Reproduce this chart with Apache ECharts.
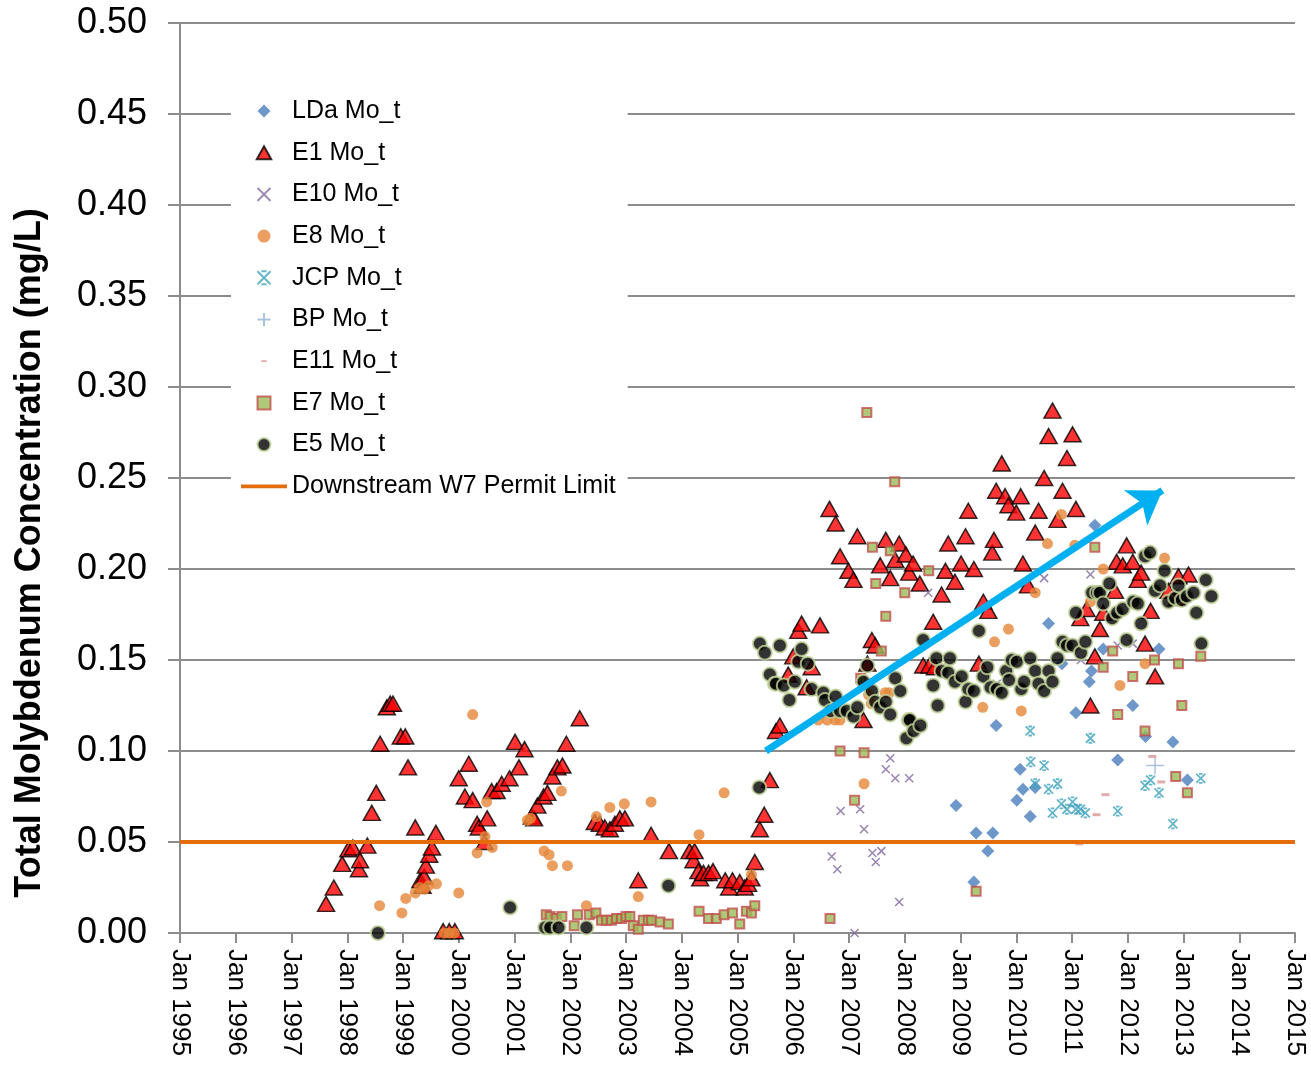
<!DOCTYPE html>
<html><head><meta charset="utf-8">
<script src="https://cdn.jsdelivr.net/npm/echarts@6/dist/echarts.min.js"></script>
<style>html,body{margin:0;padding:0;background:#fff}#c{width:1311px;height:1069px}</style>
</head><body><div id="c"></div>
<script>
// ---- data: [decimal year, concentration mg/L] ----
const ldaData = [[2008.92,0.070],[2009.24,0.028],[2009.28,0.055],[2009.49,0.045],[2009.58,0.055],[2009.64,0.114],[2010.01,0.073],[2010.07,0.090],[2010.12,0.079],[2010.25,0.064],[2010.34,0.080],[2010.58,0.170],[2010.82,0.148],[2011.07,0.121],[2011.31,0.138],[2011.35,0.144],[2011.41,0.224],[2011.56,0.156],[2011.82,0.095],[2012.09,0.125],[2012.32,0.108],[2012.56,0.156],[2012.81,0.105],[2013.07,0.084]];
const e1Data = [[1997.62,0.016],[1997.76,0.025],[1997.91,0.038],[1998.02,0.046],[1998.10,0.047],[1998.21,0.035],[1998.23,0.040],[1998.36,0.048],[1998.44,0.066],[1998.52,0.077],[1998.59,0.104],[1998.71,0.124],[1998.77,0.126],[1998.82,0.126],[1998.96,0.108],[1999.04,0.108],[1999.09,0.091],[1999.22,0.058],[1999.31,0.029],[1999.35,0.026],[1999.38,0.031],[1999.41,0.037],[1999.47,0.043],[1999.52,0.047],[1999.59,0.055],[1999.72,0.001],[1999.83,0.001],[1999.93,0.001],
[2000.00,0.085],[2000.11,0.075],[2000.18,0.093],[2000.25,0.073],[2000.33,0.060],[2000.36,0.058],[2000.46,0.050],[2000.51,0.063],[2000.59,0.078],[2000.68,0.078],[2000.77,0.082],[2000.91,0.085],[2001.01,0.105],[2001.08,0.091],[2001.18,0.101],[2001.31,0.064],[2001.35,0.063],[2001.41,0.070],[2001.52,0.075],[2001.59,0.077],[2001.68,0.086],[2001.77,0.091],[2001.86,0.092],[2001.93,0.104],[2002.17,0.118],
[2002.44,0.061],[2002.53,0.060],[2002.62,0.058],[2002.71,0.057],[2002.80,0.060],[2002.89,0.063],[2002.98,0.063],[2003.22,0.029],[2003.45,0.054],[2003.77,0.045],[2004.14,0.045],[2004.21,0.040],[2004.23,0.045],[2004.30,0.034],[2004.33,0.030],[2004.39,0.033],[2004.48,0.033],[2004.56,0.034],[2004.78,0.029],[2004.85,0.025],[2004.91,0.029],[2005.04,0.028],[2005.13,0.025],[2005.19,0.027],[2005.25,0.030],[2005.31,0.039],[2005.40,0.057],[2005.48,0.065],[2005.58,0.084],[2005.69,0.111],[2005.76,0.114],
[2005.91,0.142],[2006.00,0.152],[2006.09,0.166],[2006.15,0.170],[2006.24,0.135],[2006.33,0.146],[2006.48,0.169],[2006.65,0.233],[2006.76,0.225],[2006.84,0.207],[2006.99,0.199],[2007.08,0.194],[2007.15,0.218],[2007.26,0.117],[2007.33,0.148],[2007.41,0.161],[2007.47,0.158],[2007.56,0.202],[2007.66,0.216],[2007.74,0.195],[2007.83,0.205],[2007.90,0.214],[2008.02,0.208],[2008.08,0.198],[2008.15,0.203],[2008.27,0.192],[2008.33,0.147],[2008.44,0.147],[2008.51,0.171],[2008.54,0.146],[2008.66,0.186],[2008.73,0.199],[2008.78,0.214],[2008.90,0.193],[2009.01,0.203],[2009.09,0.218],[2009.14,0.232],[2009.24,0.200],[2009.33,0.148],[2009.41,0.182],[2009.50,0.177],[2009.57,0.209],[2009.60,0.216],[2009.64,0.243],[2009.74,0.258],[2009.80,0.240],[2009.86,0.235],[2010.00,0.231],[2010.08,0.240],[2010.12,0.203],[2010.21,0.191],[2010.34,0.220],[2010.40,0.232],[2010.50,0.250],[2010.58,0.273],[2010.65,0.287],[2010.74,0.227],[2010.83,0.243],[2010.91,0.261],[2011.01,0.274],[2011.07,0.233],[2011.15,0.173],[2011.26,0.178],[2011.33,0.125],[2011.41,0.152],[2011.50,0.167],[2011.56,0.176],[2011.77,0.188],[2011.80,0.204],[2011.91,0.202],[2011.98,0.213],[2012.09,0.204],[2012.18,0.194],[2012.24,0.198],[2012.31,0.159],[2012.41,0.177],[2012.49,0.141],[2012.73,0.188],[2012.88,0.184],[2012.91,0.196],[2013.09,0.197]];
const e10Data = [[2006.69,0.042],[2006.79,0.035],[2006.85,0.067],[2007.10,0.0],[2007.20,0.068],[2007.27,0.057],[2007.42,0.044],[2007.48,0.039],[2007.58,0.045],[2007.66,0.090],[2007.74,0.096],[2007.83,0.085],[2007.90,0.017],[2008.08,0.085],[2008.42,0.187],[2009.65,0.137],[2010.50,0.195],[2011.16,0.150],[2011.33,0.197],[2011.82,0.158],[2012.09,0.159]];
const e8Data = [[1998.58,0.015],[1998.98,0.011],[1999.05,0.019],[1999.22,0.022],[1999.30,0.025],[1999.38,0.024],[1999.46,0.026],[1999.60,0.027],[1999.74,0.0],[1999.83,0.0],[1999.92,0.0],[2000.00,0.022],[2000.25,0.120],[2000.33,0.044],[2000.47,0.053],[2000.50,0.072],[2000.60,0.047],[2001.23,0.062],[2001.29,0.063],[2001.53,0.045],[2001.62,0.043],[2001.68,0.037],[2001.84,0.078],[2001.95,0.037],[2002.29,0.015],[2002.47,0.064],[2002.71,0.069],[2002.97,0.071],[2003.22,0.020],[2003.45,0.072],[2004.31,0.054],[2004.76,0.077],[2005.25,0.032],[2006.45,0.117],[2006.61,0.117],[2006.75,0.117],[2006.84,0.117],[2007.27,0.082],[2007.35,0.131],[2007.40,0.126],[2007.65,0.132],[2007.72,0.132],[2009.40,0.124],[2009.61,0.160],[2009.86,0.167],[2010.09,0.122],[2010.34,0.187],[2010.56,0.214],[2010.81,0.230],[2011.05,0.213],[2011.33,0.182],[2011.56,0.200],[2011.86,0.136],[2012.31,0.148],[2012.66,0.206]];
const jcpData = [[2010.25,0.111],[2010.26,0.094],[2010.34,0.082],[2010.50,0.092],[2010.58,0.079],[2010.65,0.066],[2010.74,0.082],[2010.81,0.071],[2010.91,0.068],[2011.01,0.072],[2011.07,0.068],[2011.15,0.068],[2011.24,0.066],[2011.33,0.107],[2011.82,0.067],[2012.31,0.081],[2012.41,0.084],[2012.56,0.077],[2012.81,0.060],[2013.31,0.085]];
const bpData = [[2012.49,0.092]];
const e11Data = [[2011.13,0.049],[2011.44,0.065],[2011.60,0.076],[2012.44,0.097],[2012.60,0.083]];
const e7Data = [[2001.57,0.010],[2001.64,0.009],[2001.75,0.008],[2001.85,0.009],[2002.07,0.004],[2002.13,0.010],[2002.34,0.010],[2002.46,0.011],[2002.56,0.007],[2002.65,0.007],[2002.74,0.007],[2002.83,0.008],[2002.92,0.008],[2003.00,0.009],[2003.07,0.009],[2003.13,0.004],[2003.22,0.002],[2003.31,0.007],[2003.40,0.007],[2003.46,0.007],[2003.61,0.006],[2003.76,0.005],[2004.31,0.012],[2004.48,0.008],[2004.62,0.008],[2004.76,0.010],[2004.91,0.011],[2005.04,0.005],[2005.16,0.012],[2005.25,0.011],[2005.31,0.015],[2006.66,0.008],[2006.84,0.100],[2007.10,0.073],[2007.21,0.140],[2007.27,0.099],[2007.32,0.286],[2007.42,0.212],[2007.48,0.192],[2007.58,0.155],[2007.66,0.174],[2007.74,0.210],[2007.82,0.248],[2008.00,0.187],[2008.43,0.199],[2009.28,0.023],[2011.41,0.212],[2011.56,0.146],[2011.73,0.155],[2011.82,0.120],[2012.09,0.141],[2012.31,0.111],[2012.48,0.150],[2012.86,0.086],[2012.91,0.148],[2012.97,0.125],[2013.07,0.077],[2013.31,0.152]];
const e5Data = [[1998.55,0.0],[2000.92,0.014],[2001.55,0.003],[2001.64,0.003],[2001.79,0.003],[2002.29,0.003],[2003.76,0.026],[2005.39,0.080],
[2005.40,0.159],[2005.49,0.154],[2005.58,0.142],[2005.67,0.137],[2005.69,0.137],[2005.76,0.158],[2005.83,0.136],[2005.93,0.128],[2006.03,0.138],[2006.09,0.149],[2006.15,0.156],[2006.26,0.148],[2006.33,0.134],[2006.54,0.132],[2006.57,0.128],[2006.67,0.122],[2006.76,0.130],[2006.84,0.122],[2006.96,0.122],[2007.08,0.119],[2007.15,0.124],[2007.26,0.138],[2007.33,0.147],[2007.41,0.133],[2007.47,0.127],[2007.56,0.124],[2007.66,0.127],[2007.74,0.120],[2007.83,0.140],[2007.92,0.133],[2008.03,0.107],[2008.07,0.117],[2008.09,0.117],[2008.16,0.111],[2008.28,0.114],[2008.33,0.161],[2008.51,0.136],[2008.57,0.151],[2008.59,0.125],[2008.66,0.144],[2008.78,0.143],[2008.81,0.151],[2008.90,0.138],[2009.02,0.141],[2009.09,0.127],[2009.14,0.134],[2009.24,0.133],[2009.33,0.166],[2009.41,0.141],[2009.48,0.146],[2009.54,0.135],[2009.65,0.134],[2009.74,0.132],[2009.82,0.144],[2009.87,0.139],[2009.92,0.150],[2010.01,0.149],[2010.09,0.134],[2010.14,0.138],[2010.25,0.151],[2010.34,0.144],[2010.40,0.137],[2010.50,0.133],[2010.58,0.144],[2010.65,0.138],[2010.74,0.151],[2010.83,0.160],[2010.91,0.158],[2011.01,0.158],[2011.07,0.176],[2011.16,0.154],[2011.24,0.160],[2011.36,0.187],[2011.45,0.187],[2011.50,0.187],[2011.56,0.181],[2011.67,0.192],[2011.72,0.173],[2011.81,0.176],[2011.91,0.178],[2011.98,0.161],[2012.10,0.182],[2012.18,0.181],[2012.24,0.170],[2012.31,0.207],[2012.40,0.209],[2012.49,0.188],[2012.58,0.191],[2012.66,0.199],[2012.73,0.182],[2012.85,0.184],[2012.91,0.191],[2012.97,0.183],[2013.06,0.185],[2013.18,0.187],[2013.23,0.176],[2013.32,0.159],[2013.40,0.194],[2013.50,0.185]];
const permitLimit = [[1995,0.05],[2015,0.05]];
const trendArrow = [[2005.51,0.100],[2012.62,0.2432]];
const yearMin = 1995, yearMax = 2015;

const FONT = "'Liberation Sans', Arial, sans-serif";
const GRID = '#8c8c8c';
const P_X = 'path://M0,0L10,10M10,0L0,10';
const P_STAR = 'path://M0,0L10,10M10,0L0,10M3,0L7,0M3,10L7,10';
const P_PLUS = 'path://M5,0L5,10M0,5L10,5';
const P_DIAM = 'path://M5,0L10,5L5,10L0,5Z';
const P_TRI = 'path://M5,0L10,9L0,9Z';
const P_SQ = 'path://M0,0L10,0L10,10L0,10Z';
const P_DASH = 'path://M0,0L0.01,0M3,4.3L7,4.3L7,5.7L3,5.7ZM10,10L9.99,10';
const P_LINE = 'path://M0,0L48,0L48,4L0,4Z';

function sc(name, data, symbol, size, itemStyle) {
  return {type:'scatter', name, data, symbol, symbolSize:size, itemStyle, animation:false, z:2};
}

const chart = echarts.init(document.getElementById('c'), null, {renderer:'canvas'});
chart.setOption({
  backgroundColor:'#fff',
  animation:false,
  grid:{left:180, right:16, top:23, bottom:136},
  xAxis:{type:'value', min:yearMin, max:yearMax, interval:1,
    axisLine:{lineStyle:{color:GRID, width:2}},
    axisTick:{length:10, lineStyle:{color:GRID, width:2}},
    axisLabel:{rotate:-90, margin:16, fontSize:26, color:'#000', fontFamily:FONT, formatter:v=>'Jan '+v},
    splitLine:{show:false}},
  yAxis:{type:'value', min:0, max:0.5, interval:0.05,
    axisLine:{show:true, lineStyle:{color:GRID, width:2}},
    axisTick:{show:true, length:12, lineStyle:{color:GRID, width:2}},
    axisLabel:{fontSize:36, margin:33, color:'#000', fontFamily:FONT, formatter:v=>v.toFixed(2)},
    splitLine:{lineStyle:{color:GRID, width:2}}},
  legend:{orient:'vertical', left:231, top:88, padding:[10,12,12,10], backgroundColor:'#fff',
    itemWidth:46, itemHeight:13, itemGap:15.7,
    textStyle:{fontFamily:FONT, fontSize:25, color:'#000', lineHeight:26},
    data:[{name:'LDa Mo_t', icon:P_DIAM},{name:'E1 Mo_t', icon:P_TRI},{name:'E10 Mo_t', icon:P_X},
      {name:'E8 Mo_t', icon:'circle'},{name:'JCP Mo_t', icon:P_STAR},{name:'BP Mo_t', icon:P_PLUS},
      {name:'E11 Mo_t', icon:P_DASH},{name:'E7 Mo_t', icon:P_SQ},{name:'E5 Mo_t', icon:'circle'},
      {name:'Downstream W7 Permit Limit', icon:P_LINE}]},
  graphic:[{type:'text', x:30, y:553, rotation:Math.PI/2,
    style:{text:'Total Molybdenum Concentration (mg/L)', font:"bold 36px 'Liberation Sans', Arial, sans-serif", fill:'#000', textAlign:'center', textVerticalAlign:'middle'}}],
  series:[
    sc('LDa Mo_t', ldaData, 'diamond', 13, {color:'#4A7EBB'}),
    sc('E1 Mo_t', e1Data, 'triangle', [17,15], {color:'#FF0000', borderColor:'#000', borderWidth:1.5}),
    sc('E10 Mo_t', e10Data, P_X, 8, {color:'none', borderColor:'#7E649E', borderWidth:1.5}),
    sc('E8 Mo_t', e8Data, 'circle', 11, {color:'#E5873A'}),
    sc('JCP Mo_t', jcpData, P_STAR, 9, {color:'none', borderColor:'#3FA3BD', borderWidth:1.8}),
    sc('BP Mo_t', bpData, P_PLUS, 18, {color:'none', borderColor:'#95B3D7', borderWidth:1.5}),
    sc('E11 Mo_t', e11Data, 'rect', [8,3], {color:'#DA9694'}),
    sc('E7 Mo_t', e7Data, 'rect', 9, {color:'#9BBB59', borderColor:'#C0504D', borderWidth:2}),
    sc('E5 Mo_t', e5Data, 'circle', 14, {color:'#000', borderColor:'#C3D69B', borderWidth:2}),
    {type:'line', name:'Downstream W7 Permit Limit', data:permitLimit, symbol:'none', showSymbol:false,
      lineStyle:{color:'#E46C0A', width:4}, itemStyle:{color:'#E46C0A'}, z:3, animation:false},
    {type:'line', name:'trend', data:[], z:5, animation:false,
      markLine:{silent:true, symbol:['none','arrow'], symbolSize:32, animation:false,
        lineStyle:{color:'#00B0F0', width:7, type:'solid'}, itemStyle:{color:'#00B0F0'}, label:{show:false},
        data:[[{coord:trendArrow[0]},{coord:trendArrow[1]}]]}}
  ]
});
</script></body></html>
